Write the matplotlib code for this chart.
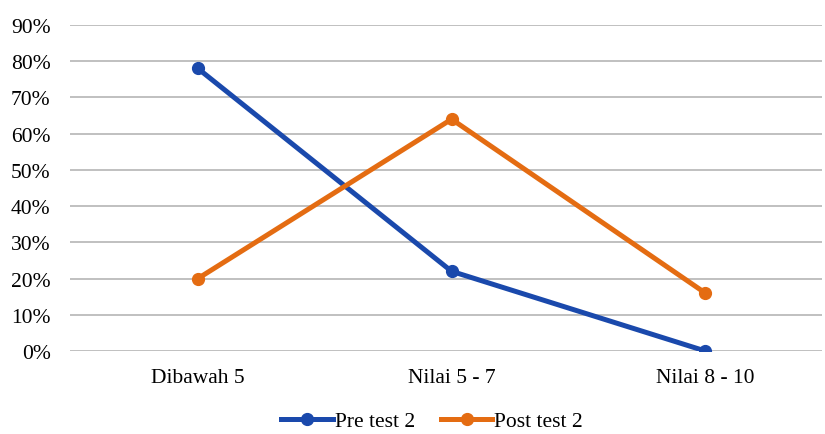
import matplotlib
matplotlib.use("Agg")
import matplotlib.pyplot as plt
from matplotlib.ticker import FuncFormatter

categories = ["Dibawah 5", "Nilai 5 - 7", "Nilai 8 - 10"]
pre_test = [78, 22, 0]
post_test = [20, 64, 16]
y_ticks = [0, 10, 20, 30, 40, 50, 60, 70, 80, 90]

plt.rcParams['font.family'] = ['Liberation Serif', 'DejaVu Serif']

fig = plt.figure(figsize=(8.25, 4.35), dpi=100)
ax = fig.add_axes([70/825, 1 - 352/435, (822-70)/825, (352-26)/435])

x = list(range(len(categories)))
ax.plot(x, pre_test, color='#1A49AC', lw=3.6, marker='o', ms=8.5, label='Pre test 2', zorder=3)
ax.plot(x, post_test, color='#E46C12', lw=3.6, marker='o', ms=8.5, label='Post test 2', zorder=3)

ax.set_xlim(-0.504, 2.46)
ax.set_ylim(0, 90)
ax.set_yticks(y_ticks)
ax.yaxis.set_major_formatter(FuncFormatter(lambda v, p: f"{int(v)}%"))
ax.set_xticks(x)
ax.set_xticklabels(categories)
ax.grid(axis='y', color='#C0C0C0', lw=1.4)
ax.set_axisbelow(True)
for s in ax.spines.values():
    s.set_visible(False)
ax.tick_params(axis='both', length=0, labelsize=15.5, colors='black')
ax.tick_params(axis='y', pad=14)
ax.tick_params(axis='x', pad=12)

leg = fig.legend(loc='center', bbox_to_anchor=(432/825, 1 - 422/435), ncol=2, frameon=False,
                 fontsize=15.5, handlelength=2.4, handletextpad=0.1, columnspacing=1.2)

fig.savefig("out.png", dpi=100)
